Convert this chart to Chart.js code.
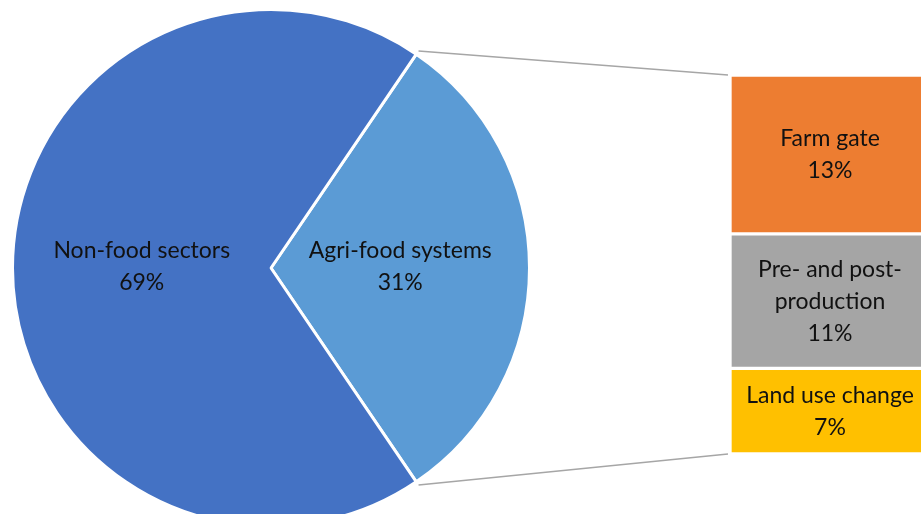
<!DOCTYPE html>
<html>
<head>
<meta charset="utf-8">
<script src="https://cdn.jsdelivr.net/npm/chart.js@4.4.1/dist/chart.umd.min.js"></script>
<style>
  html, body { margin: 0; padding: 0; background: #fff; overflow: hidden; }
  #wrap { position: relative; width: 921px; height: 514px; overflow: hidden; }
  #wrap canvas { position: absolute; left: 0; top: 0; }
</style>
</head>
<body>
<div id="wrap">
  <canvas id="pieChart" width="930" height="530"></canvas>
  <canvas id="barChart" width="930" height="530"></canvas>
</div>
<script>
// pie slices
const pieLabels = [['Agri-food systems'], ['Non-food sectors']];
const pieValues = [31, 69];
const pieColors = ['#5B9BD5', '#4472C4'];

// breakdown of agri-food systems, bottom to top
const barLabels = [['Land use change'], ['Pre- and post-', 'production'], ['Farm gate']];
const barValues = [7, 11, 13];
const barColors = ['#FFC000', '#A5A5A5', '#ED7D31'];

const labelFont = '23px Lato';
const textColor = '#111';

function drawLines(ctx, lines, x, y) {
  const lh = 32;
  ctx.save();
  ctx.font = labelFont;
  ctx.fillStyle = textColor;
  ctx.textAlign = 'center';
  ctx.textBaseline = 'middle';
  const y0 = y - (lines.length - 1) * lh / 2;
  lines.forEach((t, i) => ctx.fillText(t, x, y0 + i * lh));
  ctx.restore();
}

const pieChart = new Chart(document.getElementById('pieChart'), {
  type: 'pie',
  data: {
    labels: pieLabels.map(l => l.join(' ')),
    datasets: [{
      data: pieValues,
      backgroundColor: pieColors,
      borderColor: '#fff',
      borderWidth: 3
    }]
  },
  options: {
    responsive: false,
    animation: false,
    rotation: 90 - pieValues[0] * 3.6 / 2,
    layout: { padding: { left: 11, right: 399, top: 8, bottom: 2 } },
    plugins: { legend: { display: false }, tooltip: { enabled: false } }
  },
  plugins: [{
    id: 'pieText',
    afterDatasetsDraw(chart) {
      chart.getDatasetMeta(0).data.forEach((arc, i) => {
        const p = arc.tooltipPosition();
        drawLines(chart.ctx, [...pieLabels[i], pieValues[i] + '%'], p.x, p.y - 1);
      });
    }
  }]
});

const barChart = new Chart(document.getElementById('barChart'), {
  type: 'bar',
  data: {
    labels: ['Agri-food systems'],
    datasets: barValues.map((v, i) => ({
      label: barLabels[i].join(' '),
      data: [v],
      backgroundColor: barColors[i],
      borderColor: '#fff',
      borderWidth: 2,
      borderSkipped: false,
      barPercentage: 1,
      categoryPercentage: 1
    }))
  },
  options: {
    responsive: false,
    animation: false,
    layout: { padding: { left: 730, right: 0, top: 75, bottom: 76 } },
    scales: {
      x: { stacked: true, display: false },
      y: { stacked: true, display: false, min: 0, max: barValues.reduce((a, b) => a + b, 0) }
    },
    plugins: { legend: { display: false }, tooltip: { enabled: false } }
  },
  plugins: [{
    id: 'barText',
    afterDatasetsDraw(chart) {
      const ctx = chart.ctx;
      chart.data.datasets.forEach((ds, i) => {
        const bar = chart.getDatasetMeta(i).data[0];
        const mid = (bar.y + bar.base) / 2;
        drawLines(ctx, [...barLabels[i], barValues[i] + '%'], bar.x, mid);
      });
      // connector lines from the agri-food slice to the bar
      const arc = pieChart.getDatasetMeta(0).data[0];
      const top = chart.getDatasetMeta(chart.data.datasets.length - 1).data[0];
      const bottom = chart.getDatasetMeta(0).data[0];
      const left = top.x - top.width / 2;
      const r = arc.outerRadius + 4;
      ctx.save();
      ctx.strokeStyle = '#A6A6A6';
      ctx.lineWidth = 1.5;
      ctx.beginPath();
      ctx.moveTo(arc.x + r * Math.cos(arc.startAngle), arc.y + r * Math.sin(arc.startAngle));
      ctx.lineTo(left - 2, top.y);
      ctx.moveTo(arc.x + r * Math.cos(arc.endAngle), arc.y + r * Math.sin(arc.endAngle));
      ctx.lineTo(left - 2, bottom.base);
      ctx.stroke();
      ctx.restore();
    }
  }]
});
</script>
</body>
</html>
